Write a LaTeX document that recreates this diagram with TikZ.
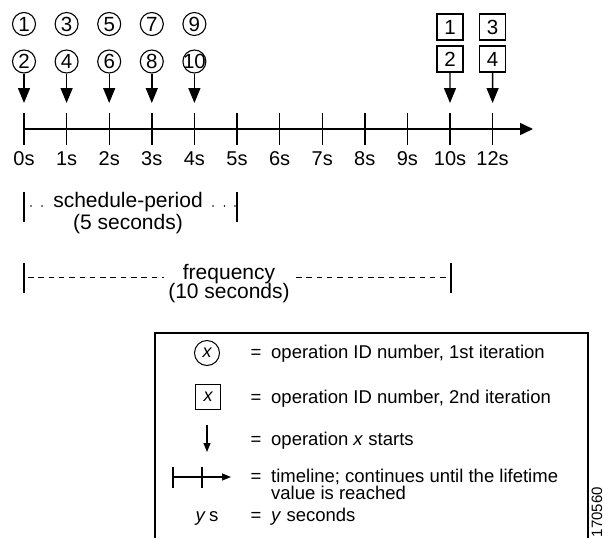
\documentclass[tikz,border=0pt]{standalone}
\usepackage{fontspec}
\setmainfont{Liberation Sans}
\usetikzlibrary{arrows.meta}
\begin{document}
\begin{tikzpicture}[x=1pt,y=-1pt,
  every node/.style={inner sep=0pt},
  opcirc/.style={draw,circle,line width=1.1pt,minimum size=23pt,text height=14pt,text depth=0pt,font=\fontsize{20.5}{20.5}\selectfont},
  opsq/.style={draw,rectangle,line width=1.1pt,minimum size=26pt,text height=14pt,text depth=0pt,font=\fontsize{20.5}{20.5}\selectfont},
  startarrow/.style={line width=1.4pt,-{Triangle[length=15pt,width=12pt]}},
  axisline/.style={line width=1.5pt,-{Triangle[length=13pt,width=12pt]}},
  tickline/.style={line width=1.4pt},
  ticklabel/.style={font=\fontsize{20}{20}\selectfont},
  bigtext/.style={font=\fontsize{21}{21}\selectfont},
  legtext/.style={font=\fontsize{18.5}{18.5}\selectfont,anchor=base west},
  legeq/.style={font=\fontsize{18.5}{18.5}\selectfont,anchor=base},
  barline/.style={line width=1.3pt},
  freqdash/.style={line width=1pt,dash pattern=on 5.5pt off 4.8pt},
  smallarrow/.style={line width=1.1pt,-{Triangle[length=9pt,width=7pt]}},
]
\useasboundingbox (0,0) rectangle (604,538);

% ticks and labels
\foreach \i/\l in {0/0s,1/1s,2/2s,3/3s,4/4s,5/5s,6/6s,7/7s,8/8s,9/9s,10/10s,11/12s}{
  \coordinate (t\i) at ({24+42.6*\i},129);
  \coordinate (tt\i) at ({24+42.6*\i},113);
  \coordinate (tb\i) at ({24+42.6*\i},145);
  \coordinate (a\i) at ({24+42.6*\i},103);
  \draw[tickline] (tt\i) -- (tb\i);
  \node[ticklabel] (lab\i) at ({24+42.6*\i},159) {\l};
}
\coordinate (axend) at (533,129);
\draw[axisline] (t0) -- (axend);

% circles
\foreach \i/\a/\b in {0/1/2,1/3/4,2/5/6,3/7/8,4/9/10}{
  \node[opcirc] (ct\i) at ({24+42.6*\i},24) {\makebox[0pt]{\a}};
  \node[opcirc] (cb\i) at ({24+42.6*\i},61.5) {\makebox[0pt]{\b}};
  \draw[startarrow] (cb\i.south) -- (a\i);
}
% squares
\node[opsq] (sq1) at (450,27) {1};
\node[opsq] (sq2) at (450,59) {2};
\node[opsq] (sq3) at (492.6,27) {3};
\node[opsq] (sq4) at (492.6,59) {4};
\draw[startarrow] (sq2.south) -- (a10);
\draw[startarrow] (sq4.south) -- (a11);

% schedule period
\coordinate (sp1) at (24,192); \coordinate (sp2) at (24,222);
\coordinate (sp3) at (237,192); \coordinate (sp4) at (237,222);
\draw[barline] (sp1) -- (sp2);
\draw[barline] (sp3) -- (sp4);
\node[bigtext] (sptext) at (128,202) {schedule-period};
\node[bigtext] (spsec) at (128,224) {(5 seconds)};
\foreach \x in {31,42,213,224.5,235}{\fill (\x,206) circle (0.9pt);}

% frequency
\coordinate (fq1) at (24,263); \coordinate (fq2) at (24,293);
\coordinate (fq3) at (451,263); \coordinate (fq4) at (451,293);
\draw[barline] (fq1) -- (fq2);
\draw[barline] (fq3) -- (fq4);
\node[bigtext] (fqtext) at (229,274) {frequency};
\node[bigtext] (fqsec) at (229,293) {(10 seconds)};
\coordinate (fd1) at (28,277); \coordinate (fd2) at (164,277);
\coordinate (fd3) at (296,277); \coordinate (fd4) at (451,277);
\draw[freqdash] (fd1) -- (fd2);
\draw[freqdash] (fd3) -- (fd4);

% legend
\coordinate (lb1) at (155,538); \coordinate (lb2) at (155,333);
\coordinate (lb3) at (588,333); \coordinate (lb4) at (588,538);
\draw[line width=1.1pt] (lb1) -- (lb2) -- (lb3) -- (lb4);

\node[draw,circle,line width=1pt,minimum size=25pt,font=\fontsize{18}{18}\selectfont\itshape] (lc) at (207,353) {x};
\node[legeq] (eq1) at (256,358) {=};
\node[legtext] (lt1) at (271,358) {operation ID number, 1st iteration};

\node[draw,rectangle,line width=1pt,minimum size=25pt,font=\fontsize{18}{18}\selectfont\itshape] (ls) at (208,397) {x};
\node[legeq] (eq2) at (256,403) {=};
\node[legtext] (lt2) at (271,403) {operation ID number, 2nd iteration};

\coordinate (la1) at (207,425); \coordinate (la2) at (207,452);
\draw[smallarrow] (la1) -- (la2);
\node[legeq] (eq3) at (256,445) {=};
\node[legtext] (lt3) at (271,445) {operation \textit{x} starts};

\coordinate (ltl1) at (173,477); \coordinate (ltl2) at (231,477);
\draw[smallarrow] (ltl1) -- (ltl2);
\draw[line width=1.1pt] (173,467) -- (173,488);
\draw[line width=1.1pt] (202,467) -- (202,488);
\node[legeq] (eq4) at (256,482) {=};
\node[legtext] (lt4) at (271,482) {timeline; continues until the lifetime};
\node[legtext] (lt4b) at (271,499) {value is reached};

\node[legeq] (lys) at (207,521) {\textit{y}\,s};
\node[legeq] (eq5) at (256,521) {=};
\node[legtext] (lt5) at (271,521) {\textit{y} seconds};

\node[font=\fontsize{15}{15}\selectfont,rotate=90] (fig) at (597,512) {170560};
\end{tikzpicture}
\end{document}
